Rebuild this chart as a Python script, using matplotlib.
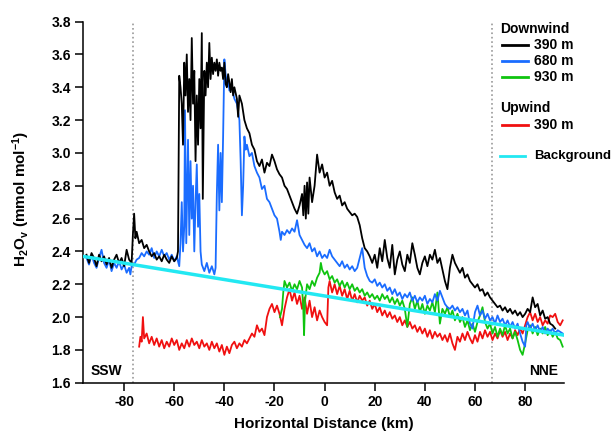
import matplotlib
matplotlib.use('Agg')  # Non-interactive backend
import matplotlib.pyplot as plt
from matplotlib.lines import Line2D

plt.rcParams['font.family'] = ['Liberation Sans', 'DejaVu Sans']
plt.rcParams['font.weight'] = 'bold'
plt.rcParams['axes.unicode_minus'] = False
plt.rcParams['mathtext.fontset'] = 'custom'
plt.rcParams['mathtext.rm'] = 'Liberation Sans:bold'
plt.rcParams['mathtext.bf'] = 'Liberation Sans:bold'
plt.rcParams['mathtext.default'] = 'bf'

# Downwind 390 m
black_x = [-95, -94, -93, -92, -91, -90, -89, -88, -87, -86, -85, -84, -83, -82, -81, -80, -79, -78, -77,
           -76.5, -76, -75.5, -75, -74, -73, -72, -71, -70, -69, -68, -67, -66, -65, -64, -63, -62, -61, -60,
           -59, -58.5, -58, -57.5, -57, -56.5, -56, -55.5, -55, -54.5, -54, -53.5, -53, -52.5, -52, -51.5,
           -51, -50.5, -50, -49.5, -49, -48.6, -48, -47.5, -47, -46.5, -46, -45.5, -45, -44.5, -44, -43.5,
           -43, -42.5, -42, -41.5, -41, -40.5, -40, -39.5, -39, -38.5, -38, -37.5, -37, -36.5, -36, -35,
           -34.5, -34, -33, -32, -31, -30, -29, -28, -27, -26, -25, -24, -23, -22, -21, -20, -19, -18, -17,
           -16, -15, -14, -13, -12, -11, -10, -9, -8.5, -8, -7.5, -7, -6.5, -6, -5, -4, -3, -2, -1, 0, 1,
           2, 3, 4, 5, 6, 7, 8, 9, 10, 11, 12, 13, 14, 15, 16, 17, 18, 19, 20, 21, 22, 23, 24, 25, 26, 27,
           28, 29, 30, 31, 32, 33, 34, 35, 36, 37, 38, 39, 40, 41, 42, 43, 44, 45, 46, 47, 48, 49, 50, 51,
           52, 53, 54, 55, 56, 57, 58, 59, 60, 61, 62, 63, 64, 65, 66, 67, 68, 69, 70, 71, 72, 73, 74, 75,
           76, 77, 78, 79, 80, 81, 82, 83, 84, 85, 86, 87, 88, 89, 90, 91, 92]
black_y = [2.38, 2.33, 2.39, 2.36, 2.31, 2.38, 2.34, 2.37, 2.32, 2.36, 2.30, 2.35, 2.38, 2.33, 2.36, 2.31, 2.41, 2.35, 2.33,
           2.50, 2.63, 2.48, 2.52, 2.45, 2.47, 2.42, 2.44, 2.40, 2.37, 2.39, 2.35, 2.37, 2.34, 2.38, 2.35, 2.33, 2.37, 2.34,
           2.36, 2.40, 3.47, 3.40, 3.30, 3.05, 3.55, 3.35, 3.60, 3.25, 3.45, 3.20, 3.70, 3.30, 3.50, 2.95,
           3.35, 3.05, 3.45, 3.15, 3.73, 2.72, 3.50, 3.35, 3.55, 3.40, 3.67, 3.45, 3.58, 3.48, 3.55, 3.50,
           3.57, 3.47, 3.55, 3.50, 3.52, 3.45, 3.55, 3.42, 3.40, 3.48, 3.43, 3.37, 3.45, 3.35, 3.40, 3.33,
           3.22, 3.35, 3.30, 3.20, 3.15, 3.12, 3.05, 3.02, 2.95, 2.92, 2.96, 2.88, 2.94, 2.92, 2.99, 2.95, 2.90, 2.87, 2.85,
           2.80, 2.78, 2.74, 2.70, 2.66, 2.63, 2.68, 2.75, 2.62, 2.80, 2.60, 2.82, 2.63, 2.85, 2.70, 2.80, 2.99, 2.88, 2.93, 2.85, 2.88,
           2.80, 2.83, 2.76, 2.72, 2.74, 2.68, 2.70, 2.66, 2.64, 2.62, 2.63, 2.61, 2.56, 2.48, 2.42, 2.40, 2.37, 2.33, 2.38, 2.30, 2.42, 2.34, 2.47, 2.36, 2.30, 2.44,
           2.26, 2.35, 2.40, 2.32, 2.28, 2.38, 2.33, 2.45, 2.38, 2.30, 2.26, 2.33, 2.37, 2.31, 2.38, 2.35, 2.41, 2.33, 2.36, 2.29, 2.22, 2.17, 2.30, 2.38,
           2.33, 2.30, 2.27, 2.30, 2.24, 2.26, 2.22, 2.20, 2.18, 2.20, 2.16, 2.17, 2.13, 2.15, 2.12, 2.10, 2.08, 2.06, 2.07, 2.04, 2.06, 2.03, 2.05, 2.02,
           2.04, 2.01, 2.03, 2.00, 2.02, 2.05, 2.03, 2.12, 2.06, 2.08, 2.01, 2.04, 1.99, 2.00, 1.96, 1.95, 1.93]

# Downwind 680 m
blue_x = [-95, -94, -93, -92, -91, -90, -89, -88, -87, -86, -85, -84, -83, -82, -81, -80, -79, -78, -77.5, -77,
          -76, -75, -74, -73, -72, -71, -70, -69, -68, -67, -66, -65, -64, -63, -62, -61, -60, -59, -58,
          -57.5, -57, -56.5, -56, -55.7, -55.2, -54.5, -54, -53.5, -53, -52.5, -52, -51.5, -51, -50.5, -50,
          -49.5, -49, -48, -47, -46, -45, -44, -43.5, -43, -42.5, -42, -41.5, -41, -40.5, -40, -39.5, -39,
          -38.5, -38, -37, -36, -35, -34, -33.5, -33, -32.5, -32, -31.5, -31, -30, -29, -28, -27, -26, -25,
          -24, -23, -22, -21, -20, -19, -18, -17.5, -17, -16, -15, -14, -13, -12, -11, -10, -9, -8, -7, -6,
          -5, -4, -3, -2, -1, 0, 1, 2, 3, 4, 5, 6, 7, 8, 9, 10, 11, 12, 13, 14, 15, 16, 17, 18, 19, 20, 21,
          22, 23, 24, 25, 26, 27, 28, 29, 30, 31, 32, 33, 34, 35, 36, 37, 38, 39, 40, 41, 42, 43, 44, 45, 46,
          47, 48, 49, 50, 51, 52, 53, 54, 55, 56, 57, 58, 59, 60, 61, 62, 63, 64, 65, 66, 67, 68, 69, 70, 71,
          72, 73, 74, 75, 76, 77, 78, 79, 80, 80.5, 81, 82, 83, 84, 85, 86, 87, 88, 89, 90, 91, 92, 93, 94, 95]
blue_y = [2.36, 2.32, 2.38, 2.33, 2.30, 2.36, 2.41, 2.33, 2.30, 2.35, 2.28, 2.33, 2.30, 2.34, 2.29, 2.32, 2.27, 2.30, 2.26, 2.31,
          2.32, 2.35, 2.36, 2.39, 2.37, 2.40, 2.38, 2.42, 2.36, 2.40, 2.37, 2.41, 2.37, 2.39, 2.35, 2.38, 2.34, 2.37, 2.31,
          2.45, 2.70, 2.40, 2.55, 3.26, 2.45, 3.08, 2.50, 2.95, 2.60, 2.80, 2.40, 2.70, 2.93, 2.55, 2.75,
          2.40, 2.32, 2.28, 2.33, 2.27, 2.31, 2.26, 2.30, 2.75, 3.05, 2.65, 3.00, 2.70, 3.10, 3.57, 3.48, 3.42,
          3.45, 3.38, 3.40, 3.33, 3.30, 3.20, 2.95, 2.62, 2.80, 3.10, 3.02, 3.05, 2.98, 3.00, 2.92, 2.88, 2.85, 2.78,
          2.80, 2.72, 2.70, 2.66, 2.62, 2.60, 2.52, 2.47, 2.52, 2.50, 2.53, 2.51, 2.54, 2.52, 2.59, 2.50, 2.47, 2.44, 2.42, 2.45,
          2.40, 2.42, 2.37, 2.40, 2.36, 2.38, 2.36, 2.41, 2.37, 2.35, 2.33, 2.31, 2.34, 2.30, 2.32, 2.29, 2.31, 2.28, 2.30, 2.36, 2.42, 2.30, 2.25, 2.22, 2.21, 2.23, 2.19,
          2.21, 2.18, 2.20, 2.16, 2.18, 2.14, 2.17, 2.13, 2.15, 2.11, 2.14, 2.12, 2.15, 2.10, 2.13, 2.09, 2.12, 2.10, 2.13, 2.08, 2.11, 2.09, 2.14, 2.10, 2.16,
          2.12, 2.08, 2.06, 2.05, 2.07, 2.04, 2.06, 2.03, 2.05, 2.01, 2.04, 1.96, 1.93, 2.03, 2.07, 2.01, 2.04, 1.99, 2.02, 1.98, 2.00, 1.96, 2.01, 1.97, 1.99,
          1.95, 1.98, 1.94, 1.97, 1.93, 1.96, 1.90, 1.85, 1.82, 1.95, 1.97, 1.93, 1.96, 1.92, 1.95, 1.91, 1.94, 1.90, 1.93, 1.91, 1.93, 1.90, 1.92, 1.91, 1.90]

# Downwind 930 m
green_x = [-17.8, -17, -16.5, -16, -15, -14, -13, -12, -11, -10, -9, -8.5, -8.2, -7.8, -7, -6, -5, -4, -3, -2,
           -1.5, -1, 0, 1, 2, 3, 4, 5, 6, 7, 8, 9, 10, 11, 12, 13, 14, 15, 16, 17, 18, 19, 20, 21, 22, 23,
           24, 25, 26, 27, 28, 29, 30, 31, 32, 33, 34, 35, 36, 37, 38, 39, 40, 41, 42, 43, 44, 45, 46, 47,
           48, 49, 50, 51, 52, 53, 54, 55, 56, 57, 58, 59, 60, 61, 62, 63, 64, 65, 66, 67, 68, 69, 70, 71,
           72, 73, 74, 75, 76, 77, 78, 79, 80, 81, 82, 83, 84, 85, 86, 87, 88, 89, 90, 91, 92, 93, 94, 95]
green_y = [2.00, 2.05, 2.15, 2.22, 2.18, 2.21, 2.16, 2.20, 2.17, 2.22, 2.18, 2.05, 1.89, 2.10, 2.20, 2.17, 2.22, 2.19, 2.24, 2.27,
           2.33, 2.29, 2.26, 2.28, 2.23, 2.25, 2.21, 2.23, 2.19, 2.22, 2.18, 2.21, 2.17, 2.20, 2.16, 2.18, 2.15, 2.17, 2.13, 2.15, 2.12, 2.14, 2.11, 2.13, 2.10, 2.14,
           2.11, 2.13, 2.09, 2.12, 2.08, 2.11, 2.07, 2.10, 2.05, 1.94, 2.08, 2.12, 2.05, 2.10, 2.03, 2.08, 2.02, 2.07, 2.04, 2.09, 2.03, 2.15, 1.96, 2.05,
           2.02, 2.06, 2.00, 2.04, 1.98, 2.02, 1.97, 2.00, 1.94, 1.98, 1.92, 1.96, 1.91, 1.97, 2.01, 2.06, 1.97, 1.93, 1.96, 1.90, 1.94, 1.88, 1.93, 1.89,
           1.95, 1.90, 1.93, 1.87, 1.91, 1.86, 1.80, 1.77, 1.84, 1.92, 1.95, 1.90, 1.94, 1.89, 1.93, 1.90, 1.94, 1.89, 1.92, 1.88, 1.91, 1.87, 1.86, 1.82]

# Upwind 390 m
red_x = [-74, -73.5, -73, -72.5, -72, -71, -70, -69, -68, -67, -66, -65, -64, -63, -62, -61, -60, -59, -58,
         -57, -56, -55, -54, -53, -52, -51, -50, -49, -48, -47, -46, -45, -44, -43, -42, -41, -40, -39, -38,
         -37, -36, -35, -34, -33, -32, -31, -30, -29, -28, -27, -26, -25, -24, -23, -22, -21, -20, -19, -18,
         -17, -16, -15, -14, -13, -12, -11, -10, -9, -8, -7, -6, -5, -4, -3, -2, -1, 0, 1, 1.5, 2, 3, 4, 5,
         6, 7, 8, 9, 10, 11, 12, 13, 14, 15, 16, 17, 18, 19, 20, 21, 22, 23, 24, 25, 26, 27, 28, 29, 30, 31,
         32, 33, 34, 35, 36, 37, 38, 39, 40, 41, 42, 43, 44, 45, 46, 47, 48, 49, 50, 51, 52, 53, 54, 55, 56,
         57, 58, 59, 60, 61, 62, 63, 64, 65, 66, 67, 68, 69, 70, 71, 72, 73, 74, 75, 76, 77, 78, 79, 80, 81,
         82, 83, 84, 85, 86, 87, 88, 89, 90, 91, 92, 93, 94, 95]
red_y = [1.82, 1.88, 1.85, 2.00, 1.87, 1.90, 1.84, 1.88, 1.83, 1.87, 1.82, 1.86, 1.81, 1.85, 1.82, 1.87, 1.83, 1.86, 1.80,
         1.84, 1.81, 1.86, 1.82, 1.87, 1.83, 1.85, 1.81, 1.86, 1.82, 1.84, 1.80, 1.85, 1.81, 1.84, 1.79, 1.83, 1.77, 1.82, 1.78,
         1.83, 1.85, 1.81, 1.84, 1.82, 1.86, 1.84, 1.87, 1.90, 1.88, 1.95, 1.91, 1.93, 1.89, 2.00, 2.05, 2.08, 2.03, 2.07, 2.02,
         1.95, 2.05, 2.12, 2.17, 2.10, 2.15, 2.08, 2.13, 2.05, 2.12, 2.02, 2.10, 2.00, 2.06, 1.98, 2.04, 2.00, 1.97, 1.95, 2.18, 2.22, 2.15, 2.20, 2.14,
         2.19, 2.13, 2.17, 2.11, 2.16, 2.10, 2.14, 2.09, 2.13, 2.10, 2.12, 2.07, 2.10, 2.05, 2.08, 2.03, 2.06, 2.01, 2.04, 2.00, 2.03, 1.99, 2.01, 1.97, 2.00, 1.95,
         1.98, 1.94, 1.97, 1.93, 1.95, 1.91, 1.94, 1.90, 1.93, 1.88, 1.92, 1.87, 1.91, 1.88, 1.90, 1.86, 1.89, 1.85, 1.90, 1.84, 1.80, 1.88, 1.85, 1.90, 1.86,
         1.91, 1.87, 1.84, 1.89, 1.85, 1.91, 1.87, 1.92, 1.88, 1.91, 1.86, 1.90, 1.87, 1.92, 1.88, 1.91, 1.86, 1.90, 1.87, 1.92, 1.89, 1.93, 1.90, 1.95, 2.00,
         2.03, 1.98, 2.02, 1.97, 2.00, 1.95, 1.98, 1.96, 2.01, 2.00, 2.02, 1.97, 1.95, 1.98]

# Background fit (end points)
bg_x = [-96.5, 95.5]
bg_y = [2.37, 1.89]

boundaries_km = [-76.5, 66.8]

BLUE = '#1a6cff'
GREEN = '#0fc40f'
RED = '#f01010'
CYAN = '#22e8f2'

fig = plt.figure(figsize=(6.13, 4.32), dpi=100)
ax = fig.add_axes([0.135, 0.114, 0.785, 0.836])

for xb in boundaries_km:
    ax.axvline(xb, color='#999999', linestyle=':', linewidth=1.2, zorder=1)

ax.plot(red_x, red_y, color=RED, linewidth=1.3, zorder=2)
ax.plot(green_x, green_y, color=GREEN, linewidth=1.3, zorder=3)
ax.plot(blue_x, blue_y, color=BLUE, linewidth=1.3, zorder=4)
ax.plot(black_x, black_y, color='black', linewidth=1.3, zorder=5)
ax.plot(bg_x, bg_y, color=CYAN, linewidth=2.5, zorder=6)

ax.set_xlim(-96.5, 95.5)
ax.set_ylim(1.6, 3.8)
ax.set_xticks([-80, -60, -40, -20, 0, 20, 40, 60, 80])
ax.set_yticks([1.6, 1.8, 2.0, 2.2, 2.4, 2.6, 2.8, 3.0, 3.2, 3.4, 3.6, 3.8])
ax.yaxis.set_major_formatter(plt.FormatStrFormatter('%.1f'))
for side in ['top', 'right']:
    ax.spines[side].set_visible(False)
for side in ['left', 'bottom']:
    ax.spines[side].set_linewidth(1.1)
ax.tick_params(direction='out', length=5.5, width=1.1, labelsize=10, pad=3)

ax.set_xlabel('Horizontal Distance (km)', fontsize=11, fontweight='bold')
ax.xaxis.set_label_coords(0.5, -0.095)
ax.set_ylabel('H$_2$O$_v$ (mmol mol$^{-1}$)', fontsize=11, fontweight='bold')
ax.yaxis.set_label_coords(-0.105, 0.51)

ax.text(-93.5, 1.63, 'SSW', fontsize=10, fontweight='bold', ha='left', va='bottom')
ax.text(93, 1.63, 'NNE', fontsize=10, fontweight='bold', ha='right', va='bottom')

# Hand-built legend to the right
def fx(px):
    return px / 613.0

def fy(py):
    return 1 - py / 432.0

fig.text(fx(500), fy(29), 'Downwind', fontsize=10, fontweight='bold', va='center')
entries = [('black', '390 m', 45), (BLUE, '680 m', 61), (GREEN, '930 m', 77)]
for color, label, py in entries:
    fig.add_artist(Line2D([fx(502), fx(528)], [fy(py), fy(py)], color=color, linewidth=2))
    fig.text(fx(534), fy(py), label, fontsize=10, fontweight='bold', va='center')
fig.text(fx(500), fy(108), 'Upwind', fontsize=10, fontweight='bold', va='center')
fig.add_artist(Line2D([fx(502), fx(528)], [fy(125), fy(125)], color=RED, linewidth=2))
fig.text(fx(534), fy(125), '390 m', fontsize=10, fontweight='bold', va='center')
fig.add_artist(Line2D([fx(500), fx(525)], [fy(156), fy(156)], color=CYAN, linewidth=2))
fig.text(fx(611), fy(156), 'Background', fontsize=9.5, fontweight='bold', va='center', ha='right')

fig.savefig('out.png', dpi=100)
